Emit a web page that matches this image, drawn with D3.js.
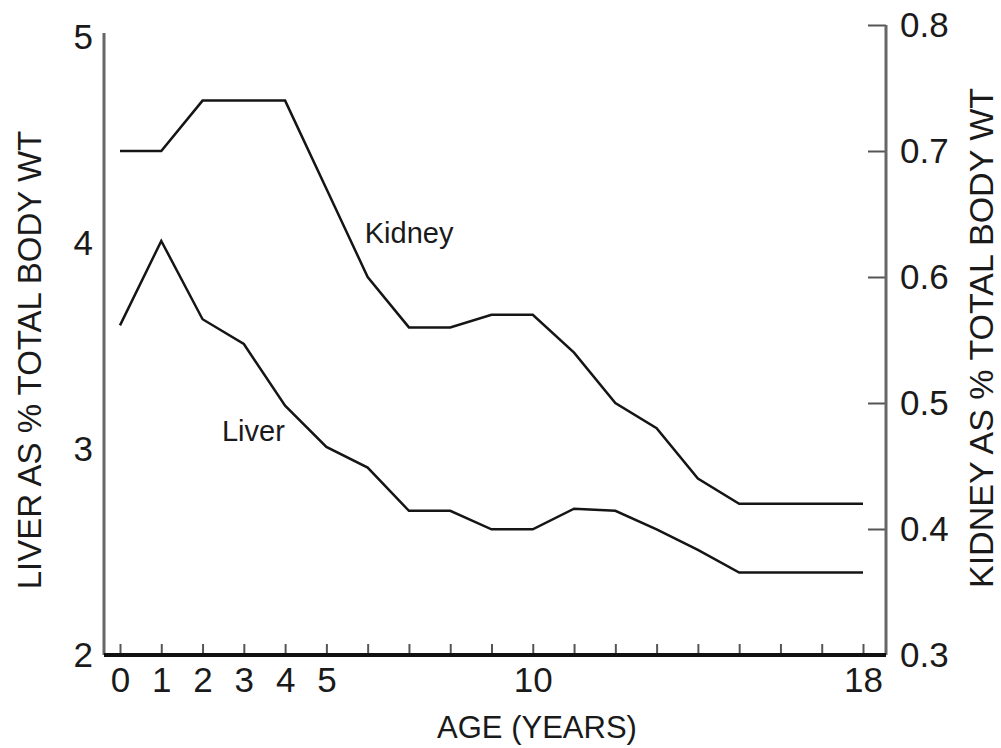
<!DOCTYPE html>
<html>
<head>
<meta charset="utf-8">
<script src="https://cdn.jsdelivr.net/npm/d3@7"></script>
<style>
  body { margin: 0; background: #fff; }
  svg { display: block; }
  text { font-family: "Liberation Sans", Arial, sans-serif; fill: #1a1a1a; }
  .tick text { font-family: "Liberation Sans Narrow", "Arial Narrow", "Liberation Sans", sans-serif; }
</style>
</head>
<body>
<div id="vis"></div>
<script>
// values
const ages = [0, 1, 2, 3, 4, 5, 6, 7, 8, 9, 10, 11, 12, 13, 14, 15, 16, 17, 18];
const liver = [3.60, 4.01, 3.63, 3.51, 3.21, 3.01, 2.91, 2.70, 2.70, 2.61, 2.61, 2.71, 2.70, 2.61, 2.51, 2.40, 2.40, 2.40, 2.40];
const kidney = [0.70, 0.70, 0.74, 0.74, 0.74, 0.67, 0.60, 0.56, 0.56, 0.57, 0.57, 0.54, 0.50, 0.48, 0.44, 0.42, 0.42, 0.42, 0.42];
const ageLabels = [0, 1, 2, 3, 4, 5, 10, 18];
const liverTicks = [2, 3, 4, 5];
const kidneyTicks = [0.3, 0.4, 0.5, 0.6, 0.7, 0.8];

const width = 1001, height = 748;
const frame = { left: 104, right: 886, bottom: 655, topL: 33, topR: 25 };

const svg = d3.select("#vis")
              .append("svg")
              .attr("width", width)
              .attr("height", height);

const x = d3.scaleLinear().domain([0, 18]).range([120, 863]);
const yL = d3.scaleLinear().domain([2, 5]).range([655, 37]);
const yR = d3.scaleLinear().domain([0.3, 0.8]).range([655, 25]);

// == AXES ==
const bottom = svg.append("g")
                  .attr("transform", "translate(0," + frame.bottom + ")")
                  .call(d3.axisBottom(x)
                          .tickValues(ages)
                          .tickSize(-11)
                          .tickPadding(12)
                          .tickFormat(d => ageLabels.includes(d) ? d : ""));

const left = svg.append("g")
                .attr("transform", "translate(" + frame.left + ",0)")
                .call(d3.axisLeft(yL)
                        .tickValues(liverTicks)
                        .tickSize(0)
                        .tickPadding(11)
                        .tickFormat(d3.format("d")));

const right = svg.append("g")
                 .attr("transform", "translate(" + frame.right + ",0)")
                 .call(d3.axisRight(yR)
                         .tickValues(kidneyTicks)
                         .tickSize(-18)
                         .tickPadding(14)
                         .tickFormat(d3.format(".1f")));

[bottom, left, right].forEach(g => {
  g.select(".domain").remove();
  g.selectAll("text").attr("font-size", 35).attr("fill", "#1a1a1a");
  g.selectAll(".tick line").attr("stroke", "#555").attr("stroke-width", 2);
});

// frame lines
svg.append("line")
   .attr("x1", frame.left).attr("x2", frame.left)
   .attr("y1", frame.topL).attr("y2", frame.bottom)
   .attr("stroke", "#666").attr("stroke-width", 3);

svg.append("line")
   .attr("x1", frame.right).attr("x2", frame.right)
   .attr("y1", frame.topR).attr("y2", frame.bottom)
   .attr("stroke", "#666").attr("stroke-width", 3);

svg.append("line")
   .attr("x1", frame.left).attr("x2", frame.right)
   .attr("y1", frame.bottom).attr("y2", frame.bottom)
   .attr("stroke", "#111").attr("stroke-width", 4);

// == LINES ==
const liverLine = d3.line()
                    .x((d, i) => x(ages[i]))
                    .y(d => yL(d));

const kidneyLine = d3.line()
                     .x((d, i) => x(ages[i]))
                     .y(d => yR(d));

svg.append("path")
   .datum(liver)
   .attr("d", liverLine)
   .attr("fill", "none")
   .attr("stroke", "#151515")
   .attr("stroke-width", 2.5);

svg.append("path")
   .datum(kidney)
   .attr("d", kidneyLine)
   .attr("fill", "none")
   .attr("stroke", "#151515")
   .attr("stroke-width", 2.5);

// series labels
svg.append("text")
   .attr("x", x(5.93))
   .attr("y", yR(0.627))
   .attr("font-size", 29)
   .text("Kidney");

svg.append("text")
   .attr("x", x(2.47))
   .attr("y", yL(3.04))
   .attr("font-size", 29)
   .text("Liver");

// axis titles
svg.append("text")
   .attr("transform", "translate(41,360) rotate(-90)")
   .attr("text-anchor", "middle")
   .attr("font-size", 33)
   .text("LIVER AS % TOTAL BODY WT");

svg.append("text")
   .attr("transform", "translate(993,338) rotate(-90)")
   .attr("text-anchor", "middle")
   .attr("font-size", 34)
   .text("KIDNEY AS % TOTAL BODY WT");

svg.append("text")
   .attr("x", 537)
   .attr("y", 738)
   .attr("text-anchor", "middle")
   .attr("font-size", 31)
   .text("AGE (YEARS)");
</script>
</body>
</html>
